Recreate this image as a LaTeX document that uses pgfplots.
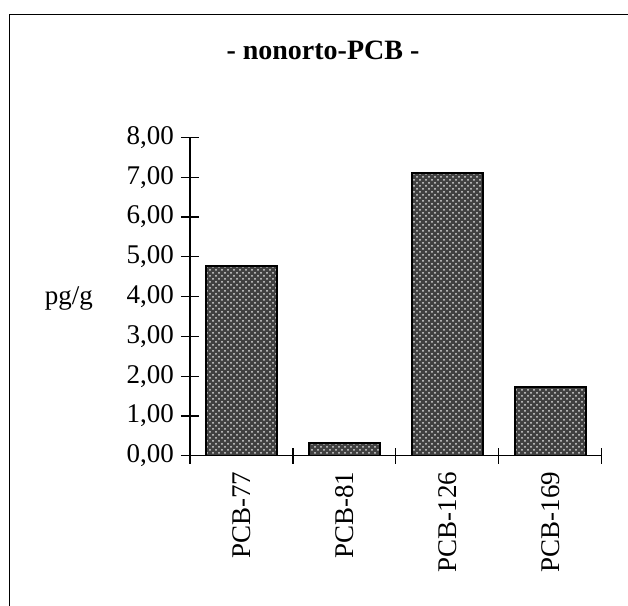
\documentclass[border=0pt]{standalone}
\usepackage{pgfplots}
\pgfplotsset{compat=1.18}
\usepackage{fontspec}
\setmainfont{Liberation Serif}
\usetikzlibrary{patterns}
\begin{document}
\begin{tikzpicture}
\clip (0,0) rectangle (314pt,303pt);
% outer frame, runs off right and bottom edges like the scan
\draw[line width=0.7pt] (4.75pt,-5pt) -- (4.75pt,295.75pt) -- (320pt,295.75pt);
\begin{axis}[
    at={(95pt,75.15pt)}, anchor=south west,
    scale only axis,
    width=205.85pt, height=159.1pt,
    ybar, bar width=35.5pt,
    axis lines*=left,
    axis line style={-, line width=0.7pt},
    xmin=0.5, xmax=4.5,
    ymin=0, ymax=8,
    ytick={0,1,...,8},
    xtick={1,2,3,4},
    xticklabels={PCB-77,PCB-81,PCB-126,PCB-169},
    major x tick style={draw=none},
    minor xtick={0.5,1.5,2.5,3.5,4.5},
    tick align=center,
    major tick length=9pt,
    minor tick length=8pt,
    tick style={black, line width=0.6pt},
    tick label style={font=\fontsize{13.5}{15}\selectfont},
    yticklabel style={/pgf/number format/.cd, fixed, fixed zerofill, precision=2, use comma, assume math mode=true},
    xticklabel style={rotate=90, anchor=east},
    title={- nonorto-PCB -},
    title style={font=\fontsize{14}{16}\bfseries, at={(axis description cs:0.323,1.207)}, anchor=base},
    ylabel={pg/g},
    every axis y label/.style={at={(axis description cs:-0.2186,0.475)}, anchor=base east, font=\fontsize{13.5}{15}\selectfont},
]
\addplot[draw=black, line width=1pt, fill=black!75,
    postaction={pattern=crosshatch dots, pattern color=white!85!black}] coordinates {
    (1,4.77) (2,0.33) (3,7.11) (4,1.72)
};
\end{axis}
\end{tikzpicture}
\end{document}
